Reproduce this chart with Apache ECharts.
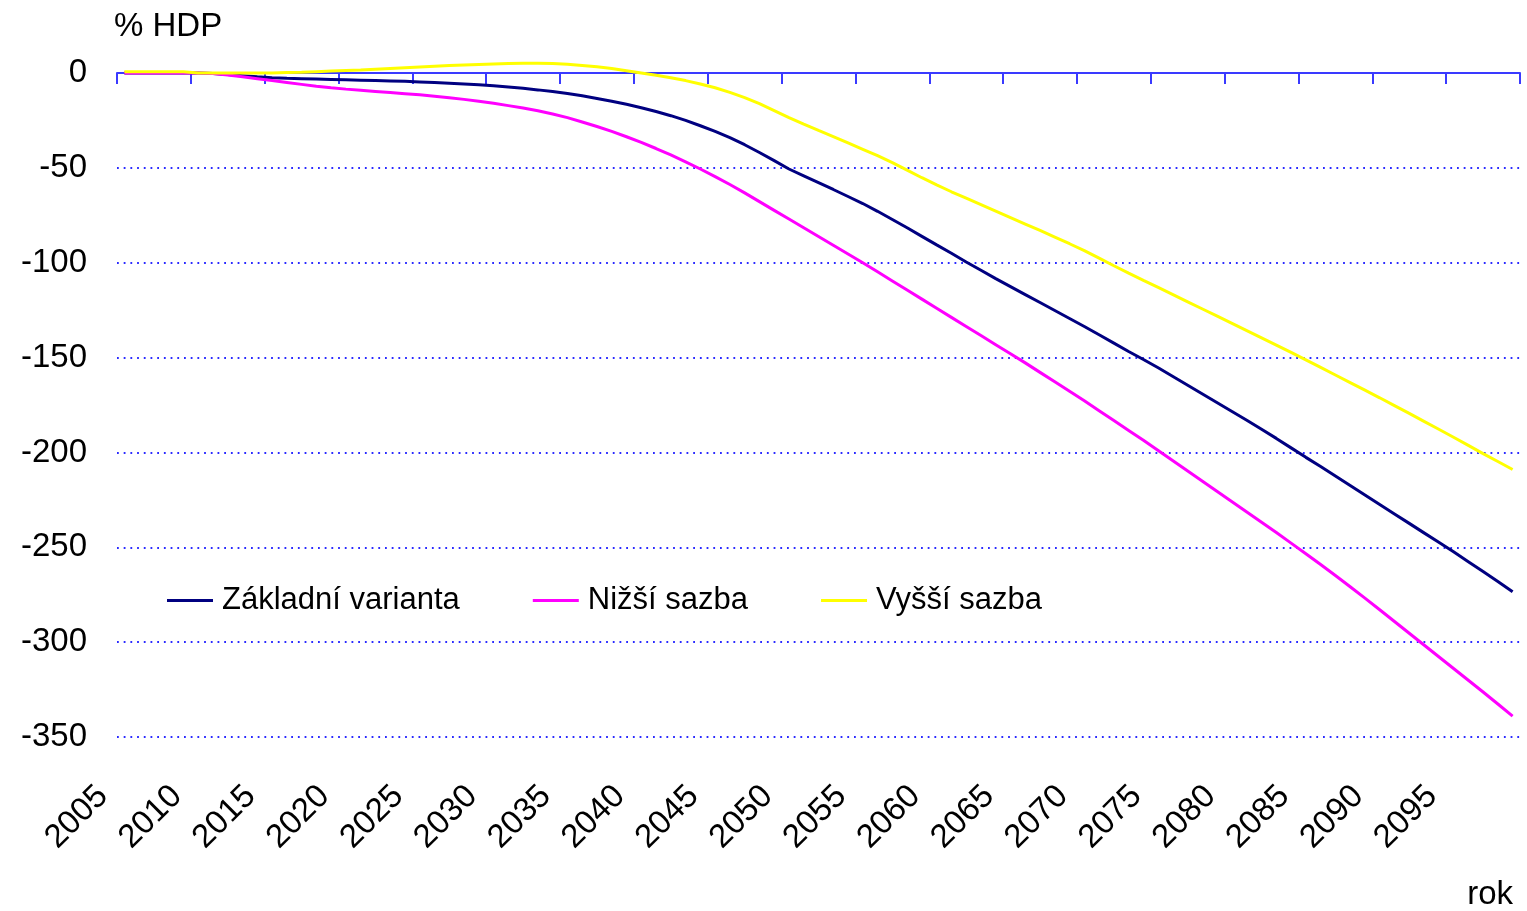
<!DOCTYPE html>
<html>
<head>
<meta charset="utf-8">
<script src="https://cdn.jsdelivr.net/npm/echarts@6/dist/echarts.min.js"></script>
<style>
html,body{margin:0;padding:0;background:#fff;}
#chart{width:1527px;height:911px;}
</style>
</head>
<body>
<div id="chart"></div>
<script>
const years = ['2005','2006','2007','2008','2009','2010','2011','2012','2013','2014',
'2015','2016','2017','2018','2019','2020','2021','2022','2023','2024',
'2025','2026','2027','2028','2029','2030','2031','2032','2033','2034',
'2035','2036','2037','2038','2039','2040','2041','2042','2043','2044',
'2045','2046','2047','2048','2049','2050','2051','2052','2053','2054',
'2055','2056','2057','2058','2059','2060','2061','2062','2063','2064',
'2065','2066','2067','2068','2069','2070','2071','2072','2073','2074',
'2075','2076','2077','2078','2079','2080','2081','2082','2083','2084',
'2085','2086','2087','2088','2089','2090','2091','2092','2093','2094',
'2095','2096','2097','2098','2099'];

const tickLabels = ['2005','2010','2015','2020','2025','2030','2035','2040','2045','2050',
'2055','2060','2065','2070','2075','2080','2085','2090','2095'];

const seriesNames = ['Základní varianta','Nižší sazba','Vyšší sazba'];

const zakladni = [0,0,0,0,0,0,-0.3,-0.8,-1.4,-2.0,
-2.5,-2.8,-3.0,-3.2,-3.4,-3.6,-3.8,-4.0,-4.2,-4.4,
-4.7,-5.0,-5.4,-5.8,-6.2,-6.7,-7.4,-8.1,-8.9,-9.8,
-10.8,-12.0,-13.4,-14.9,-16.5,-18.3,-20.3,-22.5,-25.0,-27.8,
-30.8,-34.1,-37.8,-41.9,-46.2,-50.6,-54.2,-57.8,-61.4,-65.1,
-68.8,-72.9,-77.2,-81.6,-86.1,-90.6,-95.0,-99.6,-104.0,-108.4,
-112.6,-116.8,-121.0,-125.2,-129.4,-133.6,-138.0,-142.4,-146.8,-151.0,
-155.4,-160.0,-164.6,-169.2,-173.8,-178.4,-183.0,-187.8,-192.6,-197.6,
-202.6,-207.4,-212.4,-217.4,-222.4,-227.4,-232.4,-237.4,-242.4,-247.4,
-252.4,-257.6,-262.8,-268.0,-273.4];

const nizsi = [0,0,0,0,0,0,-0.3,-1.0,-2.0,-3.0,
-4.0,-5.0,-6.0,-7.0,-7.8,-8.5,-9.1,-9.7,-10.3,-10.9,
-11.5,-12.2,-13.0,-13.9,-14.9,-16.0,-17.2,-18.5,-19.9,-21.6,
-23.5,-25.8,-28.2,-30.8,-33.6,-36.6,-39.8,-43.2,-46.8,-50.6,
-54.6,-58.8,-63.2,-67.8,-72.4,-77.0,-81.6,-86.2,-90.8,-95.4,
-100.0,-104.8,-109.6,-114.4,-119.2,-124.0,-128.8,-133.6,-138.4,-143.2,
-148.0,-152.8,-157.8,-162.8,-167.8,-172.8,-178.0,-183.2,-188.4,-193.6,
-199.0,-204.4,-209.8,-215.2,-220.6,-226.0,-231.4,-236.8,-242.2,-247.8,
-253.4,-259.1,-264.9,-270.8,-276.8,-282.9,-289.1,-295.3,-301.5,-307.7,
-313.9,-320.1,-326.3,-332.6,-339.0];

const vyssi = [0.7,0.7,0.7,0.7,0.7,0,0,0,0,0,
0,0.2,0.4,0.7,1.0,1.3,1.6,2.0,2.4,2.8,
3.2,3.6,3.9,4.2,4.5,4.8,5.0,5.1,5.2,5.0,
4.6,4.0,3.3,2.4,1.2,0,-1.2,-2.5,-4.0,-5.8,
-7.8,-10.2,-13.0,-16.2,-19.8,-23.5,-27.0,-30.3,-33.5,-36.8,
-40.2,-43.6,-47.2,-51.2,-55.2,-59.0,-62.6,-66.0,-69.4,-72.8,
-76.2,-79.6,-83.0,-86.5,-90.0,-93.6,-97.6,-101.6,-105.5,-109.3,
-113.0,-116.8,-120.6,-124.4,-128.2,-132.0,-135.8,-139.6,-143.4,-147.3,
-151.2,-155.2,-159.2,-163.2,-167.2,-171.2,-175.3,-179.4,-183.6,-187.8,
-192.0,-196.3,-200.6,-204.8,-209.0];

const colors = ['#000080','#FF00FF','#FFFF00'];
const FONT = '"Liberation Sans", Arial, sans-serif';
const AXIS_BLUE = '#3a3aff';

const chart = echarts.init(document.getElementById('chart'), null, {renderer:'canvas'});
chart.setOption({
  animation: false,
  backgroundColor: '#ffffff',
  textStyle: {fontFamily: FONT},
  grid: {left: 117, right: 7, top: 73, bottom: 174, containLabel: false},
  legend: {
    left: 167, top: 585,
    padding: 0,
    itemGap: 73,
    itemWidth: 46, itemHeight: 3,
    icon: 'rect',
    data: seriesNames,
    textStyle: {fontFamily: FONT, fontSize: 31, color: '#000', padding: [0,0,0,4]}
  },
  xAxis: [{
    type: 'category',
    data: years,
    boundaryGap: true,
    position: 'bottom',
    axisLine: {show: true, onZero: true, lineStyle: {color: AXIS_BLUE, width: 2}},
    axisTick: {show: true, interval: 4, length: 11, lineStyle: {color: AXIS_BLUE, width: 2}},
    axisLabel: {show: false},
    splitLine: {show: false}
  }, {
    type: 'value',
    min: 0, max: 95, interval: 5,
    position: 'bottom',
    axisLine: {show: false, onZero: false},
    axisTick: {show: false},
    splitLine: {show: false},
    axisLabel: {
      show: true, rotate: 45, margin: 40,
      fontFamily: FONT, fontSize: 33, color: '#000',
      padding: [0, 20, 0, 0],
      formatter: function (v) { const l = tickLabels[Math.round(v / 5)]; return l === undefined ? '' : l; }
    }
  }],
  yAxis: {
    type: 'value',
    min: -350, max: 0, interval: 50,
    axisLine: {show: false},
    axisTick: {show: false},
    axisLabel: {fontFamily: FONT, fontSize: 33, color: '#000', margin: 30},
    splitLine: {show: true, lineStyle: {color: '#2a2aff', width: 1.8, type: [1.8, 4.9]}},
    name: '% HDP',
    nameLocation: 'end',
    nameGap: 30,
    nameTextStyle: {fontFamily: FONT, fontSize: 33, color: '#000', align: 'left', padding: [0,0,0,-3]}
  },
  graphic: [{
    type: 'text', right: 14, top: 878,
    style: {text: 'rok', font: '33px ' + FONT, fill: '#000'}
  }],
  series: [
    {name: seriesNames[0], type: 'line', data: zakladni, xAxisIndex: 0, showSymbol: false, symbol: 'none', clip: false,
     lineStyle: {color: colors[0], width: 3}, itemStyle: {color: colors[0]}},
    {name: seriesNames[1], type: 'line', data: nizsi, xAxisIndex: 0, showSymbol: false, symbol: 'none', clip: false,
     lineStyle: {color: colors[1], width: 3}, itemStyle: {color: colors[1]}},
    {name: seriesNames[2], type: 'line', data: vyssi, xAxisIndex: 0, showSymbol: false, symbol: 'none', clip: false,
     lineStyle: {color: colors[2], width: 3}, itemStyle: {color: colors[2]}}
  ]
});
</script>
</body>
</html>
